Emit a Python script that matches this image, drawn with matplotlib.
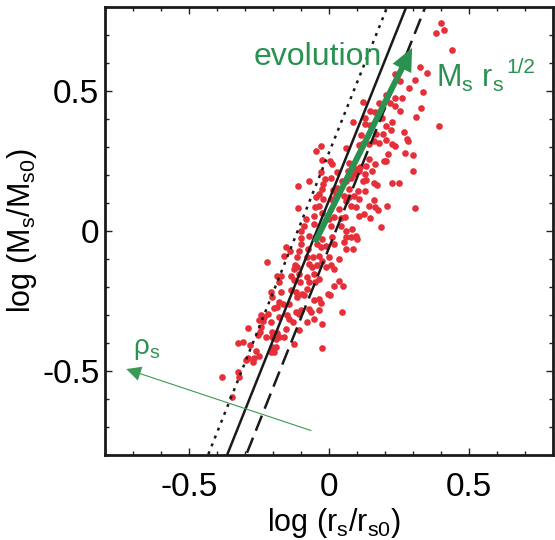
import matplotlib
matplotlib.use("Agg")
import matplotlib.pyplot as plt
from matplotlib.ticker import MultipleLocator

plt.rcParams['font.family'] = ['Liberation Sans', 'DejaVu Sans']
plt.rcParams['mathtext.fontset'] = 'custom'
plt.rcParams['mathtext.rm'] = 'Liberation Sans'
plt.rcParams['mathtext.it'] = 'Liberation Sans:italic'
plt.rcParams['mathtext.bf'] = 'Liberation Sans:bold'
plt.rcParams['axes.unicode_minus'] = False

# ---- data ----
log_r = [0.400, 0.412, 0.383, 0.441, 0.324, 0.350, 0.308, 0.235, 0.255, 0.285, 0.334, 0.261, 0.237,
         0.202, 0.121, 0.178, 0.219, 0.190, 0.237, 0.255, 0.145, 0.164, 0.311, 0.329, 0.130, 0.190,
         0.394,
         0.087, 0.128, 0.146, 0.202, 0.225, 0.223, 0.168, 0.192, 0.267, 0.113, -0.030, -0.045, 0.059,
         0.107, 0.119, 0.142, 0.160, 0.178, 0.205, 0.225, 0.235, 0.279, 0.282, 0.210, 0.273, 0.300,
         0.196, 0.205, -0.024, 0.002, 0.009, 0.071, 0.142, 0.166, 0.133, 0.110, 0.027, -0.027, 0.069,
         0.095, 0.107, 0.089, 0.077, 0.128, 0.133, 0.121, 0.154, 0.299, -0.071, 0.006, -0.014, -0.021,
         0.045, 0.062, 0.160, 0.172, 0.225, 0.251, -0.110, -0.024, -0.036, 0.030, 0.014, 0.071, 0.104,
         0.130, -0.047, 0.024, 0.006, -0.021, 0.053, 0.071, 0.062, 0.089, 0.107, 0.160, -0.036, -0.050,
         0.036, -0.109, 0.077, 0.095, 0.142, 0.166, 0.176, 0.208, 0.308, 0.107, 0.125, 0.148, -0.083,
         -0.053, -0.024, 0.000, 0.018, 0.042, 0.057, 0.184,
         -0.089, -0.053, 0.006, 0.042, 0.059, 0.083, -0.101, -0.071, -0.047, -0.024, 0.012, 0.018,
         0.059, 0.077, 0.095, 0.101, -0.101, -0.101, -0.154, -0.139, -0.107, -0.074, -0.042, -0.030,
         -0.012, 0.053, 0.059, 0.087, -0.160, -0.115, -0.077, -0.056, -0.036, -0.024, 0.000, 0.036,
         -0.223, -0.121, -0.125, -0.113, -0.071, -0.062, -0.042, -0.012, 0.006, 0.018, -0.184, -0.172,
         -0.136, -0.107, -0.077, -0.053, -0.180, -0.125, -0.103, -0.071, -0.051, -0.036, 0.036, 0.050,
         0.018, -0.208, -0.172, -0.136, -0.119, -0.077, -0.095, -0.002, 0.004, -0.202, -0.113, -0.089,
         -0.036, -0.053, -0.030, 0.045, -0.071, -0.065, -0.036, -0.024, -0.053,
         -0.178, -0.166, -0.184, -0.142, -0.119, -0.101, -0.198, -0.243, -0.231, -0.217, -0.249, -0.237,
         -0.208, -0.178, -0.151, -0.142, -0.130, -0.107, -0.077, -0.291, -0.243, -0.246, -0.255, -0.202,
         -0.184, -0.154, -0.107, -0.225, -0.202, -0.190, -0.178, -0.160, -0.326, -0.308, -0.282, -0.202,
         -0.190, -0.196, -0.208, -0.125, -0.261, -0.249, -0.267, -0.291, -0.297, -0.270, -0.326, -0.320,
         -0.382, -0.024, -0.348]
log_M = [0.742, 0.719, 0.707, 0.648, 0.585, 0.565, 0.538, 0.561, 0.535, 0.509, 0.496, 0.476, 0.476,
         0.487, 0.461, 0.458, 0.458, 0.440, 0.446, 0.428, 0.428, 0.426, 0.407, 0.440, 0.402, 0.404,
         0.375,
         0.389, 0.381, 0.377, 0.375, 0.389, 0.361, 0.345, 0.345, 0.353, 0.342, 0.304, 0.286, 0.298,
         0.306, 0.310, 0.310, 0.321, 0.315, 0.325, 0.310, 0.304, 0.327, 0.321, 0.276, 0.280, 0.270,
         0.250, 0.250, 0.253, 0.250, 0.238, 0.244, 0.256, 0.238, 0.232, 0.227, 0.209, 0.211, 0.215,
         0.221, 0.215, 0.203, 0.191, 0.203, 0.181, 0.179, 0.215, 0.215, 0.179, 0.191, 0.185, 0.167,
         0.179, 0.179, 0.173, 0.164, 0.173, 0.170, 0.159, 0.149, 0.132, 0.155, 0.147, 0.149, 0.144,
         0.144, 0.122, 0.128, 0.116, 0.114, 0.126, 0.120, 0.108, 0.126, 0.116, 0.111, 0.090, 0.084,
         0.078, 0.082, 0.090, 0.084, 0.090, 0.087, 0.076, 0.090, 0.081, 0.055, 0.060, 0.045, 0.043,
         0.055, 0.063, 0.043, 0.049, 0.046, 0.049, 0.013,
         0.019, 0.025, 0.019, 0.019, 0.001, 0.007, -0.001, -0.017, -0.017, -0.028, -0.023, -0.046,
         -0.023, -0.023, -0.017, -0.028, -0.025, -0.046, -0.056, -0.070, -0.070, -0.064, -0.046, -0.058,
         -0.052, -0.040, -0.064, -0.064, -0.088, -0.094, -0.094, -0.094, -0.088, -0.106, -0.094, -0.100,
         -0.111, -0.123, -0.135, -0.129, -0.117, -0.129, -0.123, -0.129, -0.123, -0.135, -0.159, -0.159,
         -0.159, -0.153, -0.165, -0.153, -0.183, -0.174, -0.183, -0.183, -0.183, -0.171, -0.177, -0.195,
         -0.198, -0.218, -0.218, -0.212, -0.218, -0.206, -0.224, -0.224, -0.230, -0.236, -0.236, -0.230,
         -0.242, -0.248, -0.257, -0.289, -0.278, -0.289, -0.283, -0.333, -0.313,
         -0.254, -0.260, -0.272, -0.260, -0.289, -0.283, -0.274, -0.301, -0.307, -0.295, -0.319, -0.323,
         -0.325, -0.307, -0.301, -0.313, -0.325, -0.295, -0.325, -0.345, -0.343, -0.361, -0.372, -0.361,
         -0.366, -0.349, -0.355, -0.378, -0.378, -0.384, -0.378, -0.378, -0.400, -0.396, -0.408, -0.414,
         -0.414, -0.432, -0.432, -0.402, -0.429, -0.446, -0.453, -0.455, -0.461, -0.467, -0.505, -0.521,
         -0.523, -0.418, -0.592]

line_slope = 2.5
line_intercepts = [0.28, 0.11, -0.06]
line_styles = [(0, (1.2, 2.2)), '-', (0, (6.5, 3.0))]

evo_start = (-0.050, -0.040)
evo_end = (0.297, 0.654)
rho_start = (-0.063, -0.713)
rho_end = (-0.724, -0.493)

x_ticks = [-0.5, 0, 0.5]
y_ticks = [-0.5, 0, 0.5]
tick_labels = ['-0.5', '0', '0.5']

# ---- figure ----
green = '#2a9150'
fig = plt.figure(figsize=(5.55, 5.40), dpi=100)
ax = fig.add_axes([105/555, 85/540, 448/555, 448/540])

ax.scatter(log_r, log_M, s=23, color='#e5303a', linewidths=0, zorder=2)

xl = [-0.8, 0.8]
for b, ls in zip(line_intercepts, line_styles):
    ax.plot(xl, [line_slope * x + b for x in xl], color='#1a1a1a', lw=1.8,
            linestyle=ls, zorder=3)

ax.annotate('', xy=evo_end, xytext=evo_start,
            arrowprops=dict(width=4.3, headwidth=15, headlength=16.5, shrink=0,
                            color=green, lw=0), zorder=5)
ax.annotate('', xy=rho_end, xytext=rho_start,
            arrowprops=dict(width=0.8, headwidth=10.5, headlength=10.5, shrink=0,
                            color='#3a9a55', lw=0), zorder=5)

ax.text(-0.04, 0.594, 'evolution', color=green, fontsize=23, ha='center', va='baseline', zorder=6)
ax.text(0.381, 0.516, r'M$_\mathrm{s}$ r$_\mathrm{s}$', color=green, fontsize=22,
        ha='left', va='baseline', zorder=6)
ax.text(0.632, 0.566, '1/2', color=green, fontsize=15, ha='left', va='baseline', zorder=6)
ax.text(-0.701, -0.438, r'ρ$_\mathrm{s}$', color=green, fontsize=20, ha='left', va='baseline', zorder=6)

ax.set_xlim(-0.8, 0.8)
ax.set_ylim(-0.8, 0.8)
ax.set_xticks(x_ticks)
ax.set_xticklabels(tick_labels)
ax.set_yticks(y_ticks)
ax.set_yticklabels(tick_labels)
ax.xaxis.set_minor_locator(MultipleLocator(0.1))
ax.yaxis.set_minor_locator(MultipleLocator(0.1))
ax.tick_params(which='both', direction='in', top=True, right=True, width=1.0, color='#222222')
ax.tick_params(which='major', length=5)
ax.tick_params(which='minor', length=3)
ax.tick_params(axis='x', which='major', labelsize=24, pad=12)
ax.tick_params(axis='y', which='major', labelsize=24, pad=4)
for sp in ax.spines.values():
    sp.set_linewidth(2.0)
    sp.set_color('#1a1a1a')

ax.set_xlabel(r'log (r$_\mathrm{s}$/r$_\mathrm{s0}$)', fontsize=22)
ax.set_ylabel(r'log (M$_\mathrm{s}$/M$_\mathrm{s0}$)', fontsize=22)
ax.xaxis.set_label_coords(0.511, -0.113)
ax.yaxis.set_label_coords(-0.148, 0.5)

fig.savefig('out.png', dpi=100)
